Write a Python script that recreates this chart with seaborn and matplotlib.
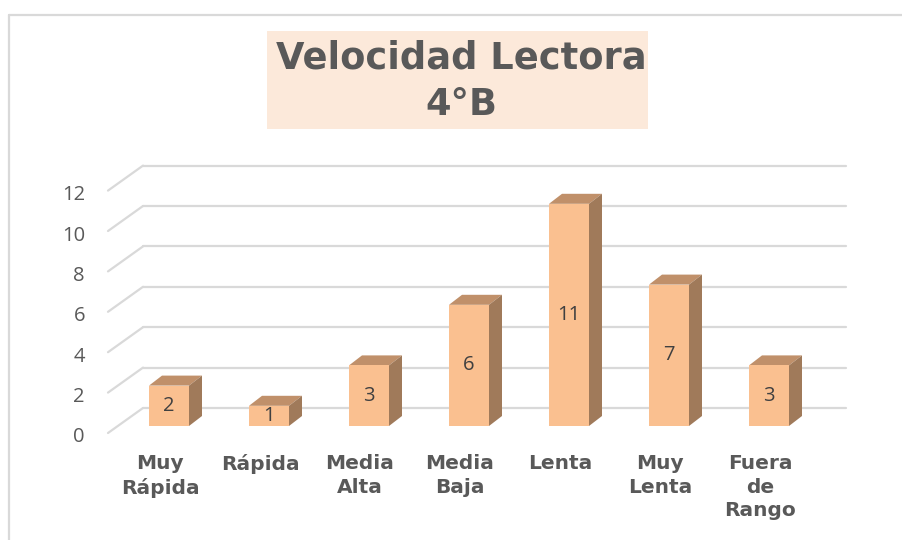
import matplotlib
matplotlib.use("Agg")
import matplotlib.pyplot as plt
import matplotlib.transforms as mtrans
from matplotlib.patches import Polygon, Rectangle
from matplotlib.lines import Line2D
import seaborn as sns
import pandas as pd

categories = ["Muy\nRápida", "Rápida", "Media\nAlta", "Media\nBaja", "Lenta", "Muy\nLenta", "Fuera\nde\nRango"]
values = [2, 1, 3, 6, 11, 7, 3]
yticks = [0, 2, 4, 6, 8, 10, 12]
title = "Velocidad Lectora\n4°B"

FRONT = "#FAC090"
TOP = "#C0906A"
SIDE = "#A07A5A"
GRID = "#D9D9D9"
TXT = "#595959"

sns.set_style("white")
plt.rcParams["font.family"] = ["DejaVu Sans"]

W, H, DPI = 902, 540, 100
fig = plt.figure(figsize=(W / DPI, H / DPI), dpi=DPI)
ax = fig.add_axes([119 / W, (H - 426) / H, 700 / W, 12 * 20.2 / H])

df = pd.DataFrame({"cat": categories, "val": values})
sns.barplot(data=df, x="cat", y="val", ax=ax, color=FRONT, saturation=1,
            width=0.4, linewidth=0, zorder=3)
ax.set_xlim(-0.5, 6.5)
ax.set_ylim(0, 12)
for s in ax.spines.values():
    s.set_visible(False)
ax.set_xlabel("")
ax.set_ylabel("")


def shifted(dx, dy):
    return ax.transData + mtrans.ScaledTranslation(dx / DPI, dy / DPI, fig.dpi_scale_trans)


# pixel -> data conversion for bar depth
p0 = ax.transData.transform((0, 0))
p1 = ax.transData.transform((1, 1))
ppx = p1[0] - p0[0]
ppy = p1[1] - p0[1]
DX, DY = 13 / ppx, 10 / ppy

# 3D grid: back wall lines and floor diagonals
gx0, gx1 = (143 - 119) / ppx - 0.5, (846 - 119) / ppx - 0.5
for v in yticks:
    ax.add_line(Line2D([gx0, gx1], [v, v], transform=shifted(0, 18), color=GRID,
                       lw=1.6, zorder=1, clip_on=False))
    ax.add_line(Line2D([gx0, gx0 - 35 / ppx], [v + 18 / ppy, v - 7 / ppy], color=GRID,
                       lw=1.6, zorder=1, clip_on=False))

# 3D faces of bars
for p, v in zip(ax.patches, values):
    x0 = p.get_x()
    x1 = x0 + p.get_width()
    h = p.get_height()
    top = Polygon([(x0, h), (x1, h), (x1 + DX, h + DY), (x0 + DX, h + DY)],
                  closed=True, facecolor=TOP, edgecolor="none", zorder=2.9, clip_on=False)
    side = Polygon([(x1, 0), (x1 + DX, DY), (x1 + DX, h + DY), (x1, h)],
                   closed=True, facecolor=SIDE, edgecolor="none", zorder=2.9, clip_on=False)
    ax.add_patch(top)
    ax.add_patch(side)
    ax.text((x0 + x1) / 2, h / 2, str(v), ha="center", va="center", fontsize=14.5,
            family=["Open Sans", "DejaVu Sans"], color="#404040", zorder=5)

# ticks
ax.set_yticks(yticks)
ax.set_yticklabels([str(t) for t in yticks], fontsize=14.5, color=TXT,
                   family=["Open Sans", "DejaVu Sans"])
ax.tick_params(axis="y", length=0, pad=24.5)
ax.tick_params(axis="x", length=0, pad=20.5)
for lab in ax.get_yticklabels():
    lab.set_transform(lab.get_transform() + mtrans.ScaledTranslation(0, -9 / DPI, fig.dpi_scale_trans))
for lab in ax.get_xticklabels():
    lab.set_fontsize(14.5)
    lab.set_fontweight("bold")
    lab.set_color(TXT)
    lab.set_linespacing(1.3)
    lab.set_transform(lab.get_transform() + mtrans.ScaledTranslation(-9 / DPI, 0, fig.dpi_scale_trans))
ax.grid(False)

# title box and title
fig.add_artist(Rectangle((267 / W, 1 - 129 / H), (648 - 267) / W, (129 - 31) / H,
                         transform=fig.transFigure, facecolor="#FCE9DA", edgecolor="none", zorder=0))
fig.text(461 / W, 1 - 81 / H, title, ha="center", va="center", fontsize=26.5,
         fontweight="bold", color=TXT, linespacing=1.32, zorder=2)

# chart border (top and left visible)
fig.add_artist(Line2D([9 / W, 9 / W], [0, 1 - 14.5 / H], transform=fig.transFigure, color=GRID, lw=1.6))
fig.add_artist(Line2D([9 / W, 1], [1 - 14.5 / H, 1 - 14.5 / H], transform=fig.transFigure, color=GRID, lw=1.6))

fig.savefig("out.png", dpi=DPI)
